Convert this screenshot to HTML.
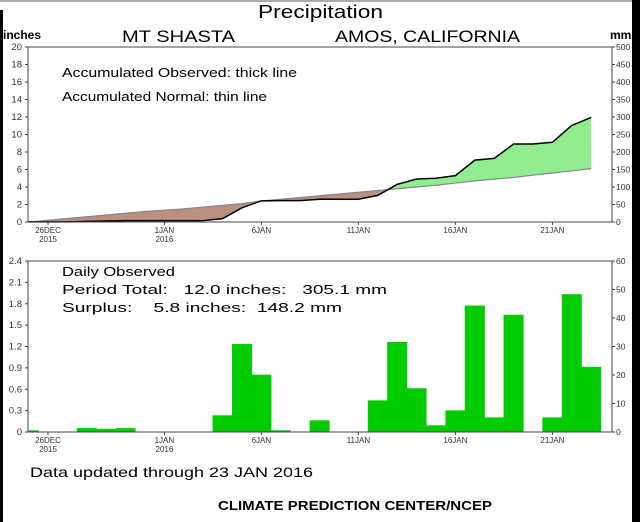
<!DOCTYPE html>
<html><head><meta charset="utf-8"><style>
html,body{margin:0;padding:0;background:#fff;}
svg{display:block;font-family:"Liberation Sans",sans-serif;}
</style></head><body>
<svg id="c" width="640" height="522" viewBox="0 0 640 522">
<rect x="0" y="0" width="640" height="522" fill="#fff"/>
<rect x="0" y="10" width="3" height="512" fill="#000"/>
<rect x="632" y="0" width="8" height="522" fill="#000"/>
<line x1="0" y1="1" x2="632" y2="1" stroke="#aaa" stroke-width="2"/>
<text x="258" y="18" font-size="18" textLength="125" lengthAdjust="spacingAndGlyphs">Precipitation</text>
<text x="122" y="42" font-size="17" textLength="113" lengthAdjust="spacingAndGlyphs">MT SHASTA</text>
<text x="335" y="42" font-size="17" textLength="185" lengthAdjust="spacingAndGlyphs">AMOS, CALIFORNIA</text>
<text x="3" y="39" font-size="12" font-weight="bold">inches</text>
<text x="610" y="39" font-size="12" font-weight="bold">mm</text>
<g id="topChart"></g>
<g id="botChart"></g>
<text x="30" y="477" font-size="14" textLength="283" lengthAdjust="spacingAndGlyphs">Data updated through 23 JAN 2016</text>
<text x="218" y="510" font-size="13" font-weight="bold" textLength="274" lengthAdjust="spacingAndGlyphs">CLIMATE PREDICTION CENTER/NCEP</text>
</svg>
<script>
const dailyObserved=[0.02,0,0,0.05,0.04,0.05,0,0,0,0,0.23,1.23,0.80,0.02,0,0.16,0,0,0.44,1.26,0.61,0.09,0.30,1.77,0.20,1.64,0,0.20,1.93,0.91];
const accumNormal=[0,0.2,0.4,0.6,0.8,1.0,1.2,1.35,1.5,1.7,1.9,2.1,2.4,2.6,2.8,3.0,3.2,3.4,3.6,3.8,4.0,4.2,4.45,4.7,4.9,5.1,5.35,5.6,5.85,6.1];
const dateTickLabels=[["26DEC","2015"],["1JAN","2016"],["6JAN",""],["11JAN",""],["16JAN",""],["21JAN",""]];
const dateTickDays=[1,7,12,17,22,27];
const topLeftTicks=[0,2,4,6,8,10,12,14,16,18,20];
const topRightTicks=[0,50,100,150,200,250,300,350,400,450,500];
const botLeftTicks=[0,0.3,0.6,0.9,1.2,1.5,1.8,2.1,2.4];
const botRightTicks=[0,10,20,30,40,50,60];

const NS="http://www.w3.org/2000/svg";
function mk(tag,attrs,parent){const e=document.createElementNS(NS,tag);for(const k in attrs)e.setAttribute(k,attrs[k]);parent.appendChild(e);return e;}
const L=28,R=612,DX=19.4,X0=28.6;
const xd=d=>X0+d*DX;
const tY0=222,tY1=47,yT=v=>tY0-(v/20)*(tY0-tY1);
const bY0=432,bY1=261,yB=v=>bY0-(v/2.4)*(bY0-bY1);
const accum=[];let s=0;dailyObserved.forEach(v=>{s+=v;accum.push(+s.toFixed(2));});

function axes(g,y0,y1,lt,lf,rt,rmax,lmax,prefix){
  const f=mk('rect',{x:L,y:y1,width:R-L,height:y0-y1,fill:'none',stroke:'#444','stroke-width':1},g);
  
  lt.forEach(v=>{const y=y0-(v/lmax)*(y0-y1);
    mk('line',{x1:L-3,y1:y,x2:L,y2:y,stroke:'#444'},g);
    const t=mk('text',{x:L-6,y:y+3,'font-size':9.5,'text-anchor':'end',fill:'#333'},g);t.textContent=lf(v);
    });
  rt.forEach(v=>{const y=y0-(v/rmax)*(y0-y1);
    mk('line',{x1:R,y1:y,x2:R+3,y2:y,stroke:'#444'},g);
    const t=mk('text',{x:R+4,y:y+3,'font-size':8.5,fill:'#333'},g);t.textContent=v;
    });
  dateTickDays.forEach((d,i)=>{const x=xd(d);
    mk('line',{x1:x,y1:y0,x2:x,y2:y0+3,stroke:'#444'},g);
    const t=mk('text',{x:x,y:y0+11,'font-size':8,'text-anchor':'middle',fill:'#333'},g);t.textContent=dateTickLabels[i][0];
    
    if(dateTickLabels[i][1]){const t2=mk('text',{x:x,y:y0+20,'font-size':8,'text-anchor':'middle',fill:'#333'},g);t2.textContent=dateTickLabels[i][1];
    }});
}
// top chart
const topG=document.getElementById('topChart');
const obsPts=accum.map((v,i)=>xd(i)+','+yT(v));
const normPts=accumNormal.map((v,i)=>xd(i)+','+yT(v));
const defs=mk('defs',{},topG);
const cA=mk('clipPath',{id:'above'},defs);
mk('polygon',{points:normPts.join(' ')+' '+xd(29)+','+tY1+' '+xd(0)+','+tY1},cA);
const cB=mk('clipPath',{id:'below'},defs);
mk('polygon',{points:normPts.join(' ')+' '+xd(29)+','+tY0+' '+xd(0)+','+tY0},cB);
const between=obsPts.join(' ')+' '+normPts.slice().reverse().join(' ');
const g1=mk('polygon',{points:between,fill:'#90ee90','clip-path':'url(#above)'},topG);

const b1=mk('polygon',{points:between,fill:'#bc8f80','clip-path':'url(#below)'},topG);

const nl=mk('polyline',{points:normPts.join(' '),fill:'none',stroke:'#888','stroke-width':1.2},topG);

const ol=mk('polyline',{points:obsPts.join(' '),fill:'none',stroke:'#000','stroke-width':1.5},topG);

axes(topG,tY0,tY1,topLeftTicks,v=>v,topRightTicks,500,20,'top');
[["Accumulated Observed: thick line",77,235],["Accumulated Normal: thin line",101,205]].forEach(a=>{
  const t=mk('text',{x:62,y:a[1],'font-size':13,textLength:a[2],lengthAdjust:'spacingAndGlyphs'},topG);t.textContent=a[0];
  });
// bottom chart
const botG=document.getElementById('botChart');
const cp=mk('clipPath',{id:'bclip'},mk('defs',{},botG));
mk('rect',{x:L,y:bY1,width:R-L,height:bY0-bY1},cp);
const bg=mk('g',{'clip-path':'url(#bclip)'},botG);
dailyObserved.forEach((v,i)=>{if(v<=0)return;
  const r=mk('rect',{x:xd(i)-DX/2,y:yB(v),width:DX,height:bY0-yB(v),fill:'#00cc00',stroke:'#00cc00','stroke-width':0.6},bg);
  });
axes(botG,bY0,bY1,botLeftTicks,v=>v===0?'0':v.toFixed(1),botRightTicks,60,2.4,'bottom');
[["Daily Observed",276,113],["Period Total:   12.0 inches:   305.1 mm",294,325],["Surplus:    5.8 inches:  148.2 mm",312,280]].forEach(a=>{
  const t=mk('text',{x:62,y:a[1],'font-size':13,textLength:a[2],lengthAdjust:'spacingAndGlyphs'},botG);t.textContent=a[0];t.style.whiteSpace='pre';
  });
</script>
</body></html>
